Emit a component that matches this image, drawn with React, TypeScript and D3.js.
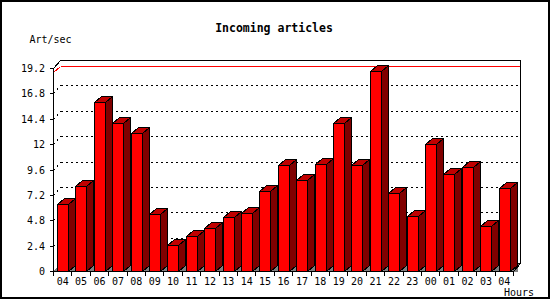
import React from "react";
import * as d3 from "d3";

const hours = ["04","05","06","07","08","09","10","11","12","13","14","15","16","17","18","19","20","21","22","23","00","01","02","03","04"];
const artPerSec = [6.33,8.03,15.94,13.96,13.01,5.39,2.43,3.28,4.03,5.07,5.45,7.53,9.99,8.57,10.08,13.98,9.99,18.87,7.34,5.17,11.97,9.14,9.80,4.22,7.81];
const yTicks = [0,2.4,4.8,7.2,9.6,12,14.4,16.8,19.2];
const yTickLabels = ["0","2.4","4.8","7.2","9.6","12","14.4","16.8","19.2"];
const title = "Incoming articles";
const yTitle = "Art/sec";
const xTitle = "Hours";

export default function App() {
  const W = 550, H = 300;
  const x0 = 53.5, x1 = 513.5;
  const wdx = 7, wdy = -8; // wall offset
  const bdx = 7, bdy = -6; // bar depth
  const x = d3.scaleBand<number>().domain(d3.range(hours.length)).range([x0, x1]).paddingInner(0).paddingOuter(0);
  const y = d3.scaleLinear().domain([0, 19.2]).range([271.5, 68.5]);
  const base = y(0);
  const top = y(19.2);
  const barOff = 3.4, barW = 11;
  const mono = "'DejaVu Sans Mono', monospace";
  const maxV = d3.max(artPerSec) as number;
  const ry = Math.round(y(maxV)) + 0.5;
  const snap = (v: number) => Math.round(v - 0.5) + 0.5;

  return (
    <svg width={W} height={H} shapeRendering="crispEdges" style={{ position: "absolute", left: 0, top: 0, background: "#fff" }}>
      <rect x={1} y={0.5} width={547.5} height={297.5} fill="#fff" stroke="#000" strokeWidth={2} />
      <text x={274} y={32} textAnchor="middle" fontFamily={mono} fontWeight="bold" fontSize={11.5}>{title}</text>
      <text x={29.5} y={42.5} fontFamily={mono} fontSize={10}>{yTitle}</text>

      {/* floor */}
      <polygon points={`${x0},${base} ${x1},${base} ${x1 + wdx},${base + wdy} ${x0 + wdx},${base + wdy}`} fill="#808080" />
      {/* back wall */}
      <rect x={x0 + wdx} y={top + wdy} width={x1 - x0} height={base - top} fill="#fff" stroke="#000" strokeWidth={1} />
      {/* left wall */}
      <polygon points={`${x0},${base} ${x0},${top} ${x0 + wdx},${top + wdy} ${x0 + wdx},${base + wdy}`} fill="#fff" stroke="none" />
      <line x1={x0} y1={top} x2={x0 + wdx} y2={top + wdy} stroke="#000" />

      {/* grid */}
      {yTicks.slice(1, -1).map((t, i) => {
        const gy = snap(y(t));
        return (
          <g key={"g" + i}>
            <line x1={x0 + wdx} x2={x1 + wdx} y1={gy + wdy} y2={gy + wdy} stroke="#000" strokeDasharray="2,3" />
            <line x1={x0} x2={x0 + wdx} y1={gy} y2={gy + wdy} stroke="#000" strokeDasharray="2,3" />
          </g>
        );
      })}
      {/* max line */}
      <line x1={x0 + bdx} x2={x1 + wdx} y1={ry + bdy} y2={ry + bdy} stroke="#ff0000" />
      <line x1={x0} x2={x0 + bdx} y1={ry} y2={ry + bdy} stroke="#ff0000" />
      <line x1={x1 + wdx} y1={base + wdy} x2={x1 + wdx} y2={top + wdy} stroke="#000" />

      {/* bars */}
      {artPerSec.map((v, i) => {
        const bx = Math.round((x(i) as number) + barOff) + 0.5;
        const by = snap(y(v));
        return (
          <g key={"b" + i} stroke="#000" strokeWidth={1} strokeLinejoin="miter">
            <polygon points={`${bx + barW},${base} ${bx + barW + bdx},${base + bdy} ${bx + barW + bdx},${base}`} fill="#808080" stroke="none" />
            <polygon points={`${bx},${by} ${bx + bdx},${by + bdy} ${bx + barW + bdx},${by + bdy} ${bx + barW},${by}`} fill="#c00000" />
            <polygon points={`${bx + barW},${by} ${bx + barW + bdx},${by + bdy} ${bx + barW + bdx},${base + bdy} ${bx + barW},${base}`} fill="#800000" />
            <rect x={bx} y={by} width={barW} height={base - by} fill="#ff0000" />
          </g>
        );
      })}

      {/* axes */}
      <line x1={x0} y1={base} x2={x0} y2={top} stroke="#000" />
      <line x1={x0} y1={base} x2={x1} y2={base} stroke="#000" />
      <line x1={x1} y1={base} x2={x1 + wdx} y2={base + wdy} stroke="#000" />
      {yTicks.map((t, i) => {
        const ty = snap(y(t));
        return (
          <g key={"yt" + i}>
            <line x1={x0 - 3.5} x2={x0} y1={ty} y2={ty} stroke="#000" />
            <text x={45} y={ty + 3.6} textAnchor="end" fontFamily={mono} fontSize={10}>{yTickLabels[i]}</text>
          </g>
        );
      })}
      {d3.range(hours.length + 1).map((i) => {
        const tx = snap(x0 + i * x.bandwidth());
        return <line key={"xt" + i} x1={tx} x2={tx} y1={base} y2={base + 4} stroke="#000" />;
      })}
      {hours.map((h, i) => (
        <text key={"xl" + i} x={(x(i) as number) + x.bandwidth() / 2} y={284.5} textAnchor="middle" fontFamily={mono} fontSize={10}>{h}</text>
      ))}
      <text x={504} y={296} fontFamily={mono} fontSize={10}>{xTitle}</text>
    </svg>
  );
}
